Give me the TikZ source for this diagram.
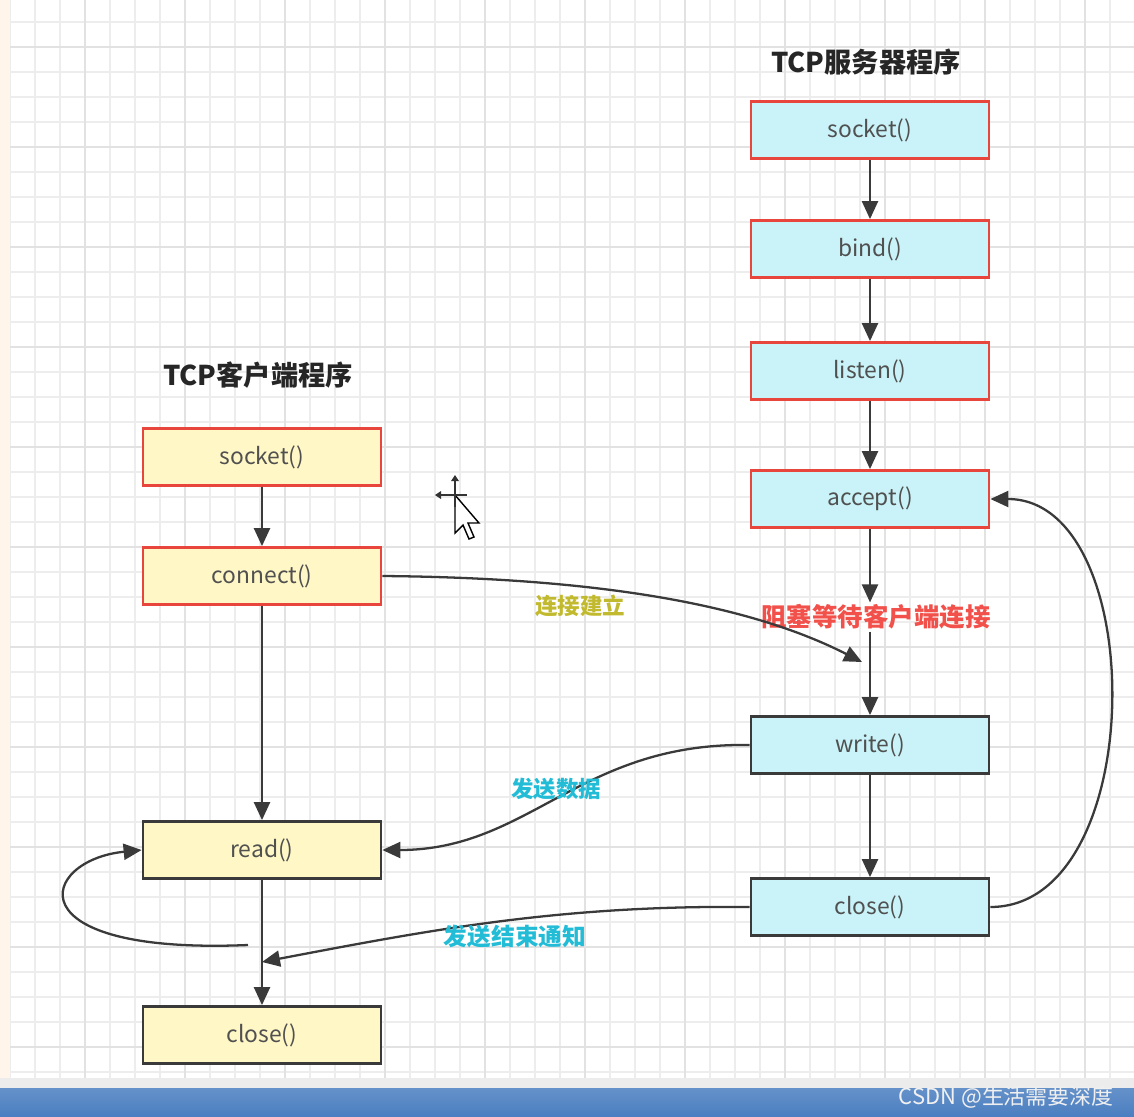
\documentclass[tikz,border=0pt]{standalone}
\usepackage{fontspec}
\setmainfont{Noto Sans CJK SC}
\newfontfamily\cjk{Noto Sans CJK SC}
\usetikzlibrary{arrows.meta}
\definecolor{gridminor}{HTML}{EDEDED}
\definecolor{gridmajor}{HTML}{E2E2E2}
\definecolor{cfill}{HTML}{FFF7C6}
\definecolor{sfill}{HTML}{C9F3F8}
\definecolor{redb}{HTML}{E8453C}
\definecolor{darkb}{HTML}{3A3A3A}
\definecolor{txt}{HTML}{505050}
\definecolor{olive}{HTML}{C2BA2E}
\definecolor{cyanl}{HTML}{22BCD6}
\definecolor{redl}{HTML}{F2504A}
\definecolor{barblue}{HTML}{4A7EC0}
\tikzset{
  box/.style={rectangle, minimum width=4.76cm, minimum height=1.14cm, line width=1.6pt, font=\fontsize{13}{15}\selectfont, text=txt},
  cbox/.style={box, fill=cfill, draw=redb},
  cboxd/.style={box, fill=cfill, draw=darkb},
  sbox/.style={box, fill=sfill, draw=redb},
  sboxd/.style={box, fill=sfill, draw=darkb},
  conn/.style={draw=darkb, line width=1.3pt, -{Triangle[width=0.32cm,length=0.36cm]}},
  ttl/.style={font=\fontsize{15.5}{17}\selectfont\bfseries, text=black!85},
  lbl/.style={font=\fontsize{12.8}{14}\selectfont\bfseries, inner sep=1pt},
}
\begin{document}
\begin{tikzpicture}[x=0.02cm, y=-0.02cm]
\useasboundingbox (0,0) rectangle (1134,1117);
\fill[white] (0,0) rectangle (1134,1117);
% grid
\foreach \gx in {10,35,...,1134} \draw[gridminor, line width=0.6pt] (\gx,0) -- (\gx,1088);
\foreach \gy in {22,47,...,1088} \draw[gridminor, line width=0.6pt] (10,\gy) -- (1134,\gy);
\foreach \gx in {85,185,...,1134} \draw[gridmajor, line width=0.9pt] (\gx,0) -- (\gx,1088);
\foreach \gy in {47,147,...,1088} \draw[gridmajor, line width=0.9pt] (10,\gy) -- (1134,\gy);
\fill[orange!8] (0,0) rectangle (10,1088);
\fill[gray!15] (0,1078) rectangle (1134,1088);
\shade[top color=barblue!85, bottom color=barblue] (0,1088) rectangle (1134,1117);
\node[font=\fontsize{12.5}{14}\selectfont, text=white!88!gray, anchor=east] (wm) at (1120,1097) {CSDN @生活需要深度};

% titles
\node[ttl] (stitle) at (866,62) {TCP服务器程序};
\node[ttl] (ctitle) at (258,375) {TCP客户端程序};

% server nodes
\node[sbox] (ss) at (870,130) {socket()};
\node[sbox] (sb) at (870,249) {bind()};
\node[sbox] (sl) at (870,371) {listen()};
\node[sbox] (sa) at (870,499) {accept()};
\node[lbl, text=redl, font=\fontsize{14.5}{16}\selectfont\bfseries] (wait) at (876,617) {阻塞等待客户端连接};
\node[sboxd] (sw) at (870,745) {write()};
\node[sboxd] (sc) at (870,907) {close()};

% client nodes
\node[cbox] (cs) at (262,457) {socket()};
\node[cbox] (cn) at (262,576) {connect()};
\node[cboxd] (cr) at (262,850) {read()};
\node[cboxd] (cc) at (262,1035) {close()};

% coordinates
\coordinate (cnend) at (862,662);
\coordinate (cdown) at (262,962);
\coordinate (loopst) at (248,945);

% server vertical arrows
\draw[conn] (ss) -- (sb);
\draw[conn] (sb) -- (sl);
\draw[conn] (sl) -- (sa);
\draw[conn] (sa.south) -- (sa.south |- wait.north);
\draw[conn] (sw.north |- wait.south) -- (sw.north);
\draw[conn] (sw) -- (sc);

% client vertical arrows
\draw[conn] (cs) -- (cn);
\draw[conn] (cn) -- (cr);
\draw[conn] (cr) -- (cc);

% curved connectors
\draw[conn] (cn.east) .. controls (620,578) and (760,610) .. (cnend);
\draw[conn] (sw.west) .. controls (580,742) and (530,850) .. (cr.east);
\draw[conn] (sc.west) .. controls (560,905) and (430,930) .. (cdown);
\draw[conn] (sc.east) .. controls (1150,907) and (1150,499) .. (sa.east);
\draw[conn] (loopst) .. controls (10,955) and (40,860) .. (cr.west);

% edge labels
\node[lbl, text=olive] (l1) at (580,606) {连接建立};
\node[lbl, text=cyanl] (l2) at (556,789) {发送数据};
\node[lbl, text=cyanl, font=\fontsize{13.5}{15}\selectfont\bfseries] (l3) at (515,936) {发送结束通知};

% mouse cursor
\begin{scope}[shift={(455,495)}]
  \draw[black, line width=0.8pt, fill=white] (0,0) -- (0,38) -- (8,30) -- (14,44) -- (19,42) -- (13,28) -- (24,28) -- cycle;
  \draw[black!80, line width=1pt] (-16,0) -- (12,0) (0,-16) -- (0,12);
  \fill[black!80] (-20,0) -- (-14,-4) -- (-14,4) -- cycle;
  \fill[black!80] (0,-20) -- (-4,-14) -- (4,-14) -- cycle;
\end{scope}
\end{tikzpicture}
\end{document}
